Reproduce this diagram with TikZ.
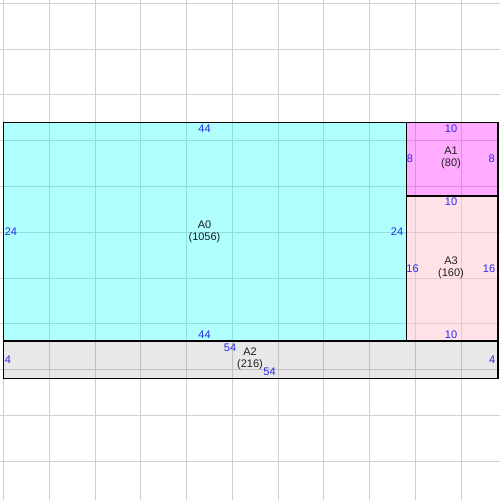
\documentclass[tikz,border=0pt]{standalone}
\usepackage{fontspec}
\setmainfont{Liberation Sans}
\definecolor{gridc}{RGB}{208,208,208}
\definecolor{numc}{RGB}{40,40,235}
\definecolor{txtc}{RGB}{30,30,30}
\definecolor{pinkc}{RGB}{255,192,205}
\definecolor{cyanc}{RGB}{0,255,255}
\definecolor{magc}{RGB}{255,0,255}
\definecolor{grayc}{RGB}{128,128,128}
\tikzset{
  gridline/.style={draw=gridc, line width=1pt},
  region/.style={draw=black, line width=1.2pt},
  num/.style={text=numc, inner sep=0pt, font=\fontsize{11}{12}\selectfont},
  lbl/.style={text=txtc, inner sep=0pt, align=center, font=\fontsize{11}{12.2}\selectfont},
}
\begin{document}
\begin{tikzpicture}[x=1pt,y=-1pt]
\useasboundingbox (0,0) rectangle (500,500);
\fill[white] (0,0) rectangle (500,500);
% grid
\foreach \k in {0,...,10} {
  \pgfmathsetmacro{\p}{3.5+45.75*\k}
  \draw[gridline] (\p,0) -- (\p,500);
  \draw[gridline] (0,\p) -- (500,\p);
}
% regions
\fill[cyanc, fill opacity=0.31] (3.5,122.7) rectangle (406.1,341);
\fill[magc, fill opacity=0.33] (406.1,122.7) rectangle (498,195.9);
\fill[pinkc, fill opacity=0.45] (406.1,195.9) rectangle (498,341);
\fill[grayc, fill opacity=0.18] (3.5,341) rectangle (498,378.3);
\draw[region] (3.5,122.7) rectangle (406.1,341);
\draw[region] (406.1,122.7) rectangle (498,195.9);
\draw[region] (406.1,195.9) rectangle (498,341);
\draw[region] (3.5,341) rectangle (498,378.3);
% A0
\node[lbl] (a0) at (204.5,231.5) {A0\\(1056)};
\node[num] (a0t) at (204.5,129) {44};
\node[num] (a0b) at (204.5,335) {44};
\node[num] (a0l) at (11,232) {24};
\node[num] (a0r) at (397,232) {24};
% A1
\node[lbl] (a1) at (451,158) {A1\\(80)};
\node[num] (a1t) at (451,129) {10};
\node[num] (a1l) at (410,159) {8};
\node[num] (a1r) at (491.7,159) {8};
% A3
\node[lbl] (a3) at (451,268) {A3\\(160)};
\node[num] (a3t) at (451,202) {10};
\node[num] (a3b) at (451,335) {10};
\node[num] (a3l) at (412.5,268.5) {16};
\node[num] (a3r) at (489,268.5) {16};
% A2
\node[lbl] (a2) at (250,359) {A2\\(216)};
\node[num] (a2t) at (230,348) {54};
\node[num] (a2b) at (269.5,372) {54};
\node[num] (a2l) at (8,360) {4};
\node[num] (a2r) at (492.3,360) {4};
\end{tikzpicture}
\end{document}
